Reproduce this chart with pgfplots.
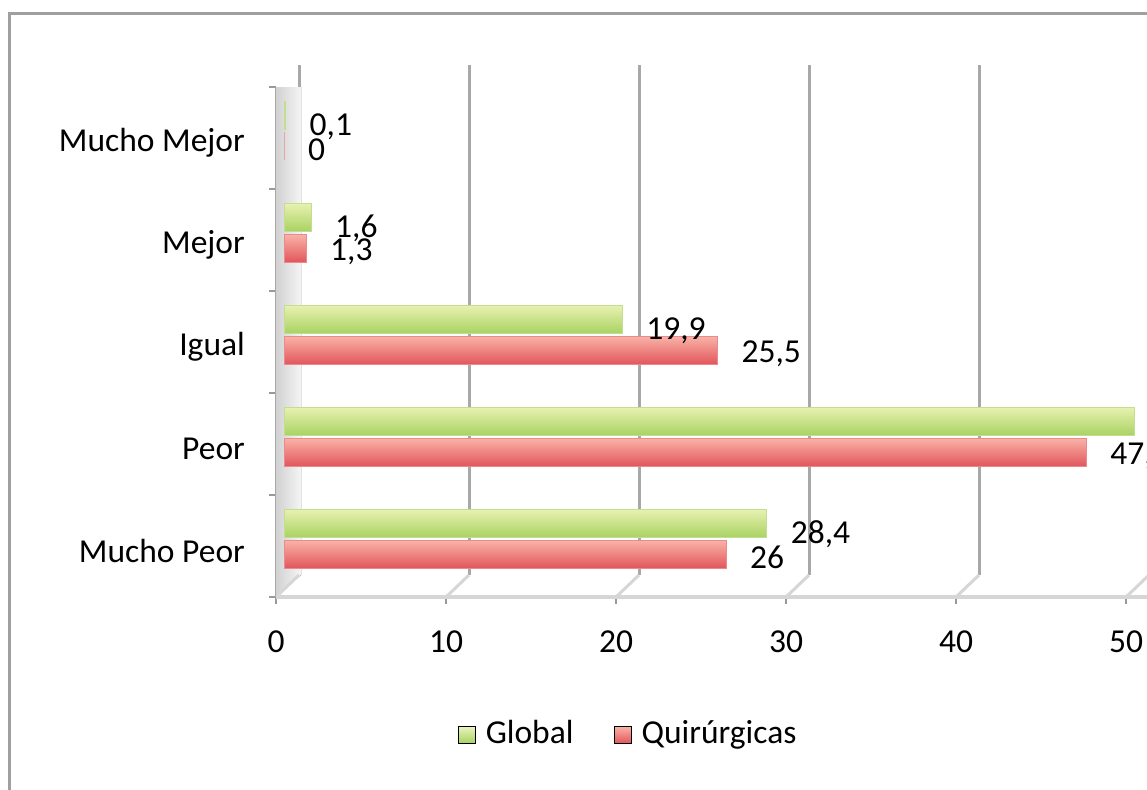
\documentclass[border=0pt]{standalone}
\usepackage{fontspec}
\setmainfont{Carlito}
\usepackage{pgfplots}
\pgfplotsset{compat=1.18}

\definecolor{gTop}{RGB}{232,241,176}
\definecolor{gMid}{RGB}{208,231,134}
\definecolor{gBot}{RGB}{168,210,98}
\definecolor{rTop}{RGB}{249,180,168}
\definecolor{rMid}{RGB}{241,138,128}
\definecolor{rBot}{RGB}{226,86,92}
\definecolor{frame}{RGB}{160,160,160}
\definecolor{gridc}{RGB}{168,168,168}
\definecolor{floorc}{RGB}{214,214,214}

\pgfplotsset{
  gbar/.style={xbar, bar width=11.2pt, bar shift=9pt, xshift=3.2pt,
    draw=gBot!70, line width=0.3pt,
    top color=gTop, middle color=gMid, bottom color=gBot, forget plot,
    every node near coord/.append style={yshift=4.6pt}},
  rbar/.style={xbar, bar width=11.2pt, bar shift=-3.2pt, xshift=3.2pt,
    draw=rBot!70, line width=0.3pt,
    top color=rTop, middle color=rMid, bottom color=rBot, forget plot,
    every node near coord/.append style={yshift=-4.6pt}},
}

\begin{document}
\fontsize{13.4}{16}\selectfont
\begin{tikzpicture}[x=0.4pt, y=-0.4pt]
  \path[use as bounding box] (0,0) rectangle (1147,789);
  \clip (0,0) rectangle (1147,789);
  \fill[white] (0,0) rectangle (1147,789);
  % chart frame (cut off at right and bottom)
  \draw[frame, line width=1.2pt] (9,800) -- (9,13) -- (1160,13);

  \begin{axis}[
    at={(110.4pt,-238.8pt)}, anchor=south west,
    scale only axis, width=353.6pt, height=204pt,
    xmin=0, xmax=52, ymin=-0.5, ymax=4.5,
    /pgf/number format/assume math mode=true,
    xtick={0,10,...,50},
    ytick={0,...,4},
    yticklabels={Mucho Peor, Peor, Igual, Mejor, Mucho Mejor},
    minor ytick={-0.5,0.5,...,4.5},
    axis x line*=bottom, axis y line*=left,
    x axis line style={floorc, line width=1.6pt, -},
    y axis line style={gridc, line width=0.8pt, -},
    tick align=outside,
    major tick length=2.8pt, minor tick length=2.8pt,
    major x tick style={gray!80, line width=0.8pt},
    major y tick style={draw=none},
    minor y tick style={gray!80, line width=0.8pt},
    xticklabel style={yshift=-6pt},
    yticklabel style={xshift=-5pt, yshift=-2pt},
    xmajorgrids,
    major x grid style={gridc, line width=1.2pt, xshift=9.2pt, yshift=8.8pt},
    legend style={at={(0.40,-0.27)}, anchor=center, draw=none, fill=none,
      legend columns=-1,
      /tikz/every odd column/.append style={column sep=2pt},
      /tikz/every even column/.append style={column sep=14pt}},
    point meta=x,
    nodes near coords={\pgfmathprintnumber[use comma, fixed, precision=1]{\pgfplotspointmeta}},
    every node near coord/.append style={anchor=west, xshift=5pt, black},
  ]
    % 3D wall on the left
    \fill[left color=gray!38, right color=gray!8]
      ([xshift=-0.8pt]axis cs:0,-0.5) -- ([xshift=-0.8pt]axis cs:0,4.5)
      -- ([xshift=10pt, yshift=8.8pt]axis cs:0,4.5)
      -- ([xshift=10pt, yshift=8.8pt]axis cs:0,-0.5) -- cycle;
    % floor diagonals
    \pgfplotsinvokeforeach{0,10,...,50}{
      \draw[floorc, line width=1.2pt] (axis cs:#1,-0.5) -- ++(9.2pt,8.8pt);
    }

    % Global
    \addplot[gbar] coordinates {(28.4,0)};
    \addplot[gbar] coordinates {(50.0,1)};
    \addplot[gbar] coordinates {(19.9,2)};
    \addplot[gbar] coordinates {(1.6,3)};
    \addplot[gbar] coordinates {(0.1,4)};
    % Quirurgicas
    \addplot[rbar] coordinates {(26,0)};
    \addplot[rbar] coordinates {(47.2,1)};
    \addplot[rbar] coordinates {(25.5,2)};
    \addplot[rbar] coordinates {(1.3,3)};
    \addplot[rbar] coordinates {(0,4)};

    \addlegendimage{legend image code/.code={\shade[top color=gTop!80, bottom color=gBot]
        (0pt,-3.4pt) rectangle (6.8pt,3.4pt);}}
    \addlegendentry{Global}
    \addlegendimage{legend image code/.code={\shade[top color=rTop, bottom color=rBot]
        (0pt,-3.4pt) rectangle (6.8pt,3.4pt);}}
    \addlegendentry{Quirúrgicas}
  \end{axis}
\end{tikzpicture}
\end{document}
